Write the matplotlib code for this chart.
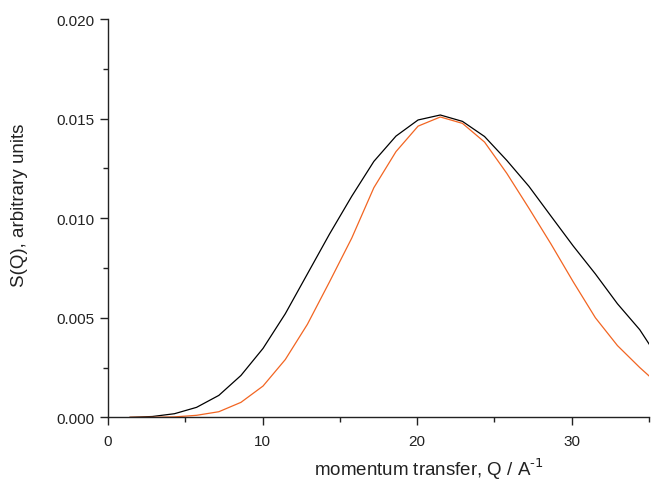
import numpy as np
import matplotlib
matplotlib.use("Agg")
import matplotlib.pyplot as plt
from matplotlib.ticker import MultipleLocator, FormatStrFormatter

plt.rcParams['font.family'] = ['Liberation Sans', 'DejaVu Sans']

# momentum transfer grid (Q / A^-1)
q = [1.43, 2.87, 4.30, 5.73, 7.17, 8.60, 10.03, 11.47, 12.90, 14.33, 15.77, 17.20,
     18.63, 20.06, 21.50, 22.93, 24.36, 25.80, 27.23, 28.66, 30.10, 31.53, 32.96,
     34.40, 35.83]

# S(Q), black curve
s_black = [0.0, 0.00004, 0.00018, 0.0005, 0.0011, 0.0021, 0.00346, 0.0052, 0.0072,
           0.0092, 0.0111, 0.01285, 0.01412, 0.01493, 0.01518, 0.01486, 0.01410,
           0.0129, 0.0116, 0.0101, 0.0086, 0.0072, 0.0057, 0.0044, 0.0027]

# S(Q), orange curve
s_orange = [0.0, 0.0, 0.00002, 0.0001, 0.00028, 0.00075, 0.00157, 0.0029, 0.00467,
            0.0068, 0.0090, 0.01153, 0.01334, 0.01462, 0.01508, 0.01476, 0.01382,
            0.01225, 0.0105, 0.0087, 0.0068, 0.0050, 0.0036, 0.0025, 0.0015]

fig = plt.figure(figsize=(6.51, 4.81), dpi=100)
ax = fig.add_axes([108/651, 1-418.3/481, (649-108)/651, (418.3-20)/481])

ax.plot(q, s_black, color='black', lw=0.9)
ax.plot(q, s_orange, color='#f26522', lw=0.9)

ax.set_xlim(0, 35)
ax.set_ylim(0, 0.020)
ax.xaxis.set_major_locator(MultipleLocator(10))
ax.xaxis.set_minor_locator(MultipleLocator(5))
ax.yaxis.set_major_locator(MultipleLocator(0.005))
ax.yaxis.set_minor_locator(MultipleLocator(0.0025))
ax.yaxis.set_major_formatter(FormatStrFormatter('%.3f'))

for s in ['top', 'right']:
    ax.spines[s].set_visible(False)
for s in ['left', 'bottom']:
    ax.spines[s].set_linewidth(1.0)
    ax.spines[s].set_color('#222222')

ax.tick_params(which='major', direction='out', length=6, width=1.0, labelsize=11,
               colors='#222222', pad=4)
ax.tick_params(which='minor', direction='out', length=3.5, width=1.0, colors='#222222')
ax.tick_params(axis='x', pad=6)

ax.set_xlabel('momentum transfer, Q / A$^{\\text{-1}}$', fontsize=13.5, color='#222222')
ax.set_ylabel('S(Q), arbitrary units', fontsize=13.5, color='#222222')
ax.xaxis.label.set_va('baseline')
ax.xaxis.set_label_coords(0.593, -(476 - 418.3) / 398.3)
ax.yaxis.set_label_coords((28 - 108) / 541, 0.5355)

fig.savefig('out.png', dpi=100)
